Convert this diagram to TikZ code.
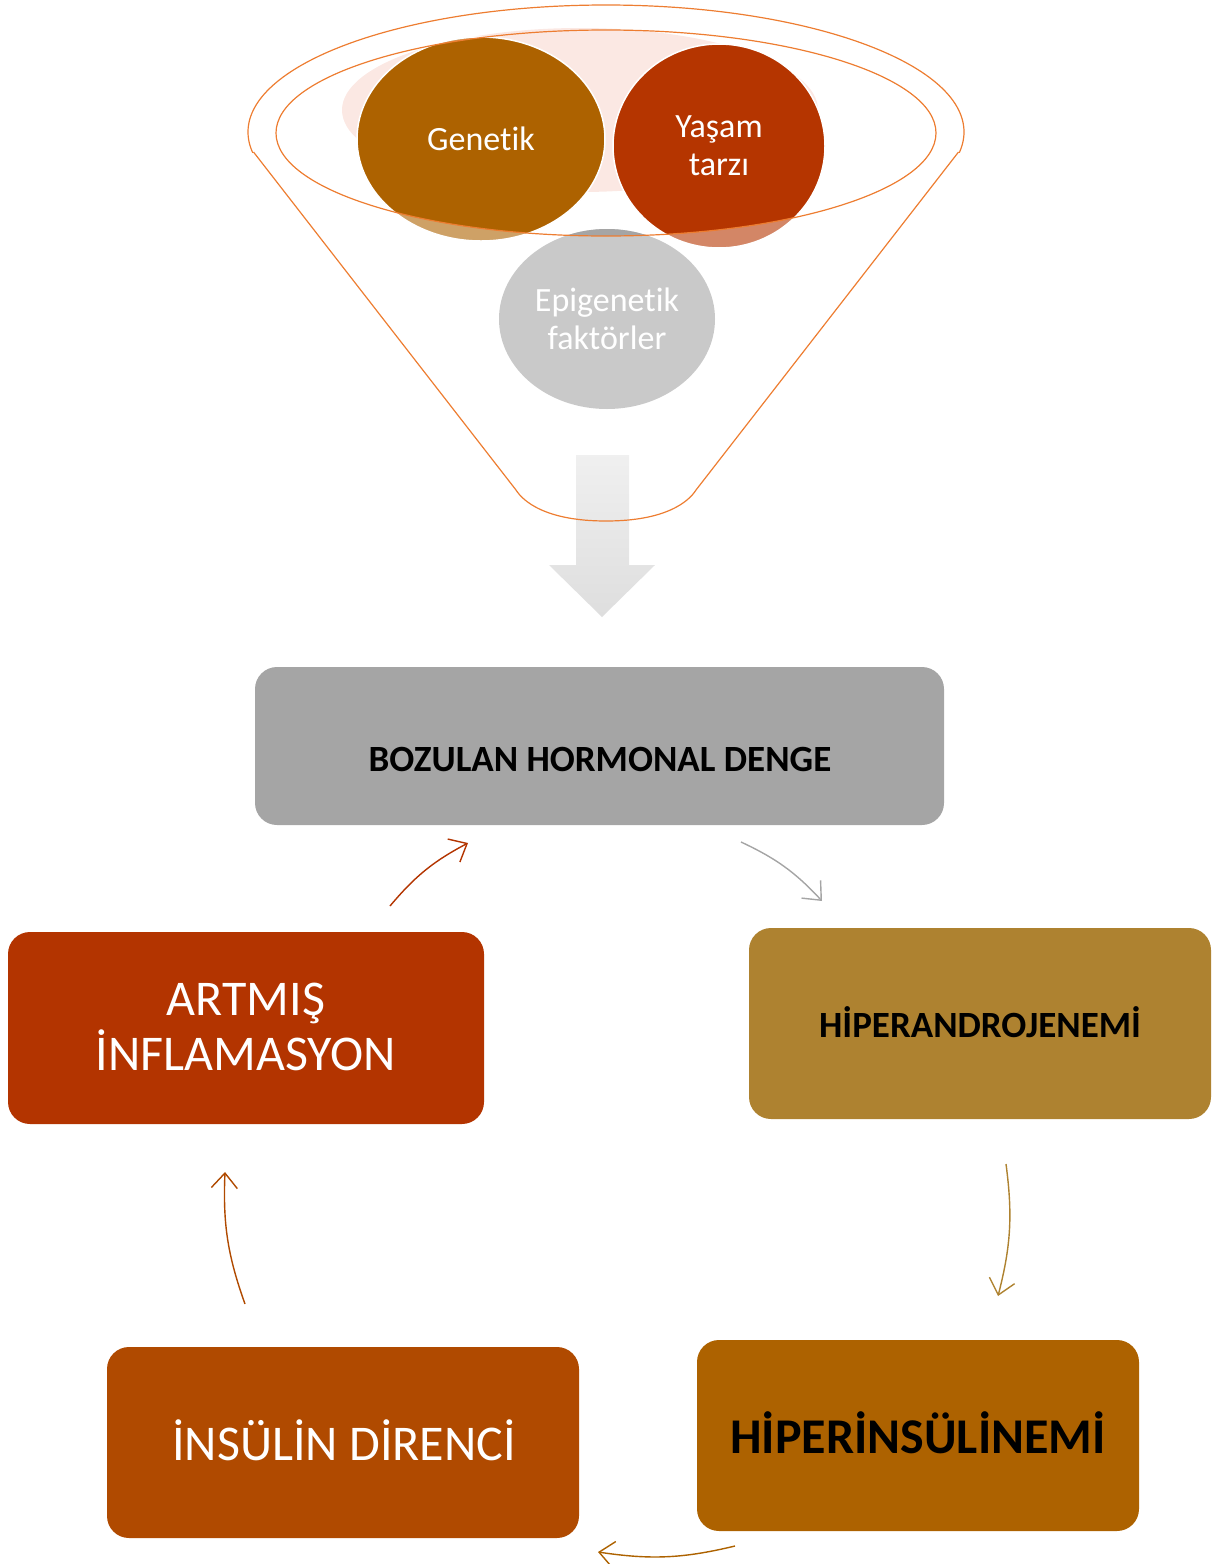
\documentclass[tikz,border=0pt]{standalone}
\usepackage{fontspec}
\setmainfont{Carlito}[Ligatures={NoCommon}]
\usetikzlibrary{arrows.meta,shapes.geometric}
\definecolor{funnelc}{HTML}{ED7D31}
\definecolor{pinkc}{HTML}{FBE8E3}
\definecolor{genc}{HTML}{AD6200}
\definecolor{yasc}{HTML}{B53500}
\definecolor{epic}{HTML}{A5A5A5}
\definecolor{grayc}{HTML}{A5A5A5}
\definecolor{andc}{HTML}{AE8230}
\definecolor{infc}{HTML}{B33400}
\definecolor{hinsc}{HTML}{AD6200}
\definecolor{insc}{HTML}{B04A00}
\tikzset{
  funnelline/.style={draw=funnelc, line width=1.2pt},
  box/.style={rounded corners=22pt, inner sep=0pt},
  cyc/.style={line width=1.4pt, -{Straight Barb[length=15pt,width=26pt,line width=1.4pt]}, bend left=11},
  circtext/.style={text=white, font=\fontsize{34}{38}\selectfont, align=center},
}
\begin{document}
\begin{tikzpicture}[x=1pt,y=-1pt]
\useasboundingbox (0,0) rectangle (1222,1564);

% down arrow
\shade[top color=black!6, bottom color=black!13]
  (576,455) -- (629,455) -- (629,565) -- (655,565) -- (602,617) -- (549,565) -- (576,565) -- cycle;

% pink background
\fill[pinkc] (580,110) ellipse [x radius=238, y radius=82];

% translucent circles
\fill[epic, opacity=0.6] (607,319) ellipse [x radius=108, y radius=90];
\fill[genc, opacity=0.6] (481,139) ellipse [x radius=124, y radius=102];
\fill[yasc, opacity=0.6] (719,146) ellipse [x radius=106, y radius=102];
% opaque parts inside inner ellipse
\begin{scope}
  \clip (606,133) ellipse [x radius=330, y radius=103];
  \fill[epic] (607,319) ellipse [x radius=108, y radius=90];
  \fill[genc] (481,139) ellipse [x radius=124, y radius=102];
  \fill[yasc] (719,146) ellipse [x radius=106, y radius=102];
\end{scope}
\draw[white, line width=1.5pt] (481,139) ellipse [x radius=124, y radius=102];
\draw[white, line width=1.5pt] (719,146) ellipse [x radius=106, y radius=102];

\node[circtext] (genetik) at (481,139) {Genetik};
\node[circtext] (yasam) at (719,146) {Yaşam\\tarzı};
\node[circtext] (epi) at (607,319) {Epigenetik\\faktörler};

% funnel lines
\draw[funnelline] (606,133) ellipse [x radius=330, y radius=103];
\begin{scope}
  \clip (0,0) rectangle (1222,152);
  \draw[funnelline] (606,132) ellipse [x radius=358, y radius=127];
\end{scope}
\draw[funnelline] (253.5,152) -- (516,490) .. controls (523,501) and (545,521) .. (606,521)
  .. controls (667,521) and (689,501) .. (696,490) -- (958.5,152);

% boxes
\node[box, fill=grayc, minimum width=689pt, minimum height=158pt] (bozulan) at (599.5,746) {};
\node[font=\bfseries\fontsize{37}{42}\selectfont, text=black] (bozulant) at (600,759) {BOZULAN HORMONAL DENGE};

\node[box, fill=andc, minimum width=462pt, minimum height=191pt] (andro) at (980,1023.5) {};
\node[font=\bfseries\fontsize{37}{42}\selectfont, text=black] (androt) at (980,1022) {HİPERANDROJENEMİ};

\node[box, fill=infc, minimum width=476pt, minimum height=192pt] (infl) at (246,1028) {};
\node[font=\fontsize{50}{55}\selectfont, text=white, align=center] (inflt) at (246,1027) {ARTMIŞ\\İNFLAMASYON};

\node[box, fill=hinsc, minimum width=442pt, minimum height=191pt] (hins) at (918,1435.5) {};
\node[font=\bfseries\fontsize{50}{56}\selectfont, text=black] (hinst) at (918,1433) {HİPERİNSÜLİNEMİ};

\node[box, fill=insc, minimum width=472pt, minimum height=191pt] (ins) at (343,1442.5) {};
\node[font=\fontsize{50}{56}\selectfont, text=white] (inst) at (344,1440) {İNSÜLİN DİRENCİ};

% cycle arrows
\coordinate (a1s) at (741,842); \coordinate (a1e) at (822,901);
\coordinate (a2s) at (1006,1164); \coordinate (a2e) at (998,1296);
\coordinate (a3s) at (735,1546); \coordinate (a3e) at (598,1552);
\coordinate (a4s) at (245,1304); \coordinate (a4e) at (225,1172);
\coordinate (a5s) at (390,906); \coordinate (a5e) at (468,843);
\draw[cyc, draw=grayc] (a1s) to (a1e);
\draw[cyc, draw=andc] (a2s) to (a2e);
\draw[cyc, draw=hinsc] (a3s) to (a3e);
\draw[cyc, draw=insc] (a4s) to (a4e);
\draw[cyc, draw=infc] (a5s) to (a5e);
\end{tikzpicture}
\end{document}
